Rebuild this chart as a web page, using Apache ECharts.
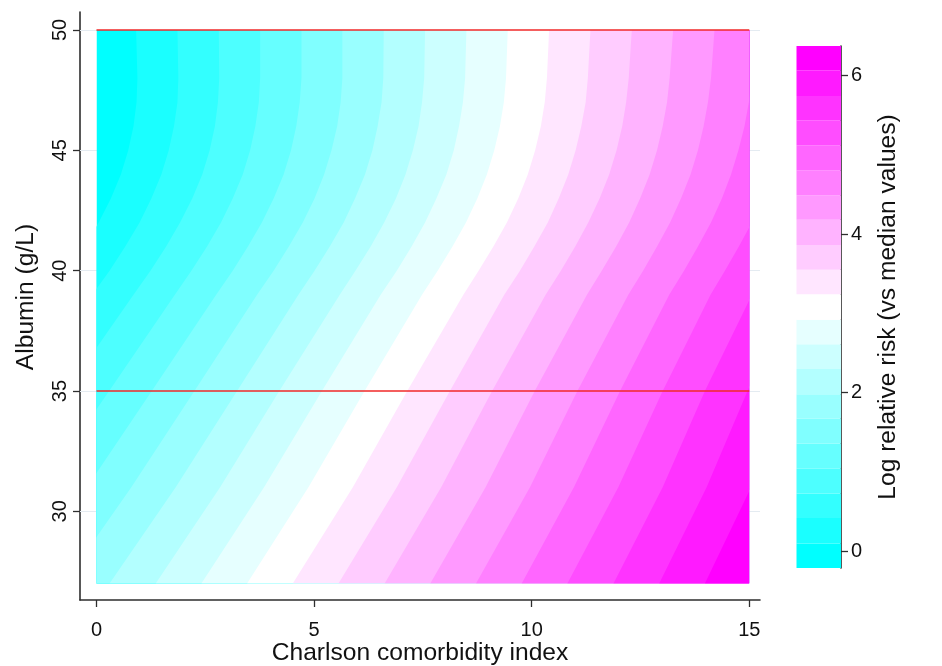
<!DOCTYPE html>
<html>
<head>
<meta charset="utf-8">
<script src="https://cdn.jsdelivr.net/npm/echarts@6/dist/echarts.min.js"></script>
<style>
  html, body { margin: 0; padding: 0; background: #ffffff; }
  #chart { width: 942px; height: 666px; }
</style>
</head>
<body>
<div id="chart"></div>
<script>
// Albumin (g/L) rows along which each contour boundary is traced, top to bottom
const albuminRows = [50, 48, 47, 46, 45, 44, 43, 42, 41, 40, 39, 35, 31, 27];

// Charlson comorbidity index at which each successive risk cut is crossed,
// one list per cut (lowest cut first), aligned with albuminRows
const contourX = [
  [0.91, 0.94, 0.92, 0.85, 0.73, 0.56, 0.33, 0.05, -0.28, -0.65, -1.04, -2.64, -4.28, -6.01],
  [1.86, 1.88, 1.86, 1.78, 1.66, 1.49, 1.26, 0.99, 0.66, 0.30, -0.10, -1.66, -3.27, -4.96],
  [2.81, 2.82, 2.79, 2.72, 2.60, 2.43, 2.20, 1.92, 1.60, 1.24, 0.85, -0.69, -2.25, -3.90],
  [3.76, 3.76, 3.73, 3.65, 3.53, 3.36, 3.13, 2.86, 2.54, 2.18, 1.80, 0.29, -1.23, -2.85],
  [4.71, 4.71, 4.67, 4.59, 4.47, 4.30, 4.07, 3.80, 3.48, 3.13, 2.75, 1.27, -0.22, -1.80],
  [5.65, 5.65, 5.61, 5.53, 5.40, 5.23, 5.01, 4.74, 4.42, 4.07, 3.69, 2.25, 0.80, -0.75],
  [6.60, 6.59, 6.55, 6.46, 6.34, 6.17, 5.94, 5.68, 5.36, 5.01, 4.64, 3.23, 1.82, 0.30],
  [7.55, 7.53, 7.48, 7.40, 7.27, 7.10, 6.88, 6.61, 6.30, 5.95, 5.59, 4.20, 2.84, 1.36],
  [8.50, 8.47, 8.42, 8.33, 8.21, 8.04, 7.81, 7.55, 7.24, 6.90, 6.53, 5.18, 3.85, 2.41],
  [9.45, 9.41, 9.36, 9.27, 9.14, 8.97, 8.75, 8.49, 8.18, 7.84, 7.48, 6.16, 4.87, 3.46],
  [10.40, 10.35, 10.30, 10.21, 10.08, 9.91, 9.69, 9.43, 9.12, 8.78, 8.43, 7.14, 5.89, 4.51],
  [11.35, 11.29, 11.24, 11.14, 11.01, 10.84, 10.62, 10.37, 10.06, 9.73, 9.37, 8.12, 6.90, 5.56],
  [12.30, 12.23, 12.17, 12.08, 11.95, 11.78, 11.56, 11.30, 11.00, 10.67, 10.32, 9.09, 7.92, 6.62],
  [13.25, 13.17, 13.11, 13.01, 12.88, 12.71, 12.49, 12.24, 11.94, 11.61, 11.27, 10.07, 8.94, 7.67],
  [14.20, 14.12, 14.05, 13.95, 13.82, 13.65, 13.43, 13.18, 12.88, 12.56, 12.22, 11.05, 9.96, 8.72],
  [15.14, 15.06, 14.99, 14.89, 14.75, 14.58, 14.37, 14.12, 13.82, 13.50, 13.16, 12.03, 10.97, 9.77],
  [16.09, 16.00, 15.93, 15.82, 15.69, 15.52, 15.30, 15.06, 14.76, 14.44, 14.11, 13.01, 11.99, 10.82],
  [17.04, 16.94, 16.86, 16.76, 16.62, 16.45, 16.24, 15.99, 15.70, 15.38, 15.06, 13.98, 13.01, 11.88],
  [17.99, 17.88, 17.80, 17.69, 17.56, 17.39, 17.17, 16.93, 16.64, 16.33, 16.00, 14.96, 14.02, 12.93],
  [18.94, 18.82, 18.74, 18.63, 18.49, 18.32, 18.11, 17.87, 17.58, 17.27, 16.95, 15.94, 15.04, 13.98]
];

// Log relative risk cut points (bottom of the colour bar to its top)
const levelCuts = [-0.21, 0.10, 0.42, 0.73, 1.04, 1.36, 1.67, 1.98, 2.30, 2.61, 2.92,
                   3.24, 3.55, 3.86, 4.18, 4.49, 4.80, 5.12, 5.43, 5.74, 6.06, 6.37];

// Extent of the predicted surface
const charlsonRange = [0, 15];
const albuminRange = [27, 50];

// Reference albumin values marked with red lines
const refAlbumin = [35, 50];

// Tick labels
const xTicks = [0, 5, 10, 15];
const yTicks = [30, 35, 40, 45, 50];
const riskTicks = [0, 2, 4, 6];

// ---- styling ----
const FONT = '"Liberation Sans", Arial, sans-serif';
const AXIS_COLOR = '#2e2e2e';
const nBands = levelCuts.length - 1;
const half = (nBands - 1) / 2;
// cyan -> white -> magenta, one flat colour per band
const bandColors = Array.from({ length: nBands }, (_, i) => {
  if (i < half) {
    const r = Math.round(255 * i / half);
    return `rgb(${r},255,255)`;
  }
  if (i === half) return 'rgb(255,255,255)';
  const g = Math.round(255 * (nBands - 1 - i) / half);
  return `rgb(255,${g},255)`;
});

const chart = echarts.init(document.getElementById('chart'), null, { renderer: 'canvas' });

// Each level k paints the region where risk exceeds cut k; later levels overlay earlier ones
function renderBand(params, api) {
  const k = api.value(0);
  const tl = api.coord([charlsonRange[0], albuminRange[1]]);
  const br = api.coord([charlsonRange[1], albuminRange[0]]);
  let pts;
  if (k === 0) {
    pts = [[charlsonRange[0], albuminRange[1]], [charlsonRange[0], albuminRange[0]],
           [charlsonRange[1], albuminRange[0]], [charlsonRange[1], albuminRange[1]]];
  } else {
    pts = albuminRows.map((a, r) => [contourX[k - 1][r], a]);
    pts.push([charlsonRange[1], albuminRange[0]], [charlsonRange[1], albuminRange[1]]);
  }
  return {
    type: 'polygon',
    shape: { points: pts.map(p => api.coord(p)) },
    style: { fill: bandColors[k], stroke: null },
    clipPath: { type: 'rect', shape: { x: tl[0], y: tl[1], width: br[0] - tl[0], height: br[1] - tl[1] } }
  };
}

function renderBarCell(params, api) {
  const i = api.value(0);
  const p0 = api.coord([0, levelCuts[i + 1]]);
  const p1 = api.coord([1, levelCuts[i]]);
  return {
    type: 'rect',
    shape: { x: p0[0], y: p0[1], width: p1[0] - p0[0], height: p1[1] - p0[1] },
    style: { fill: bandColors[i], stroke: null }
  };
}

const tickText = { fontFamily: FONT, fontSize: 20, color: '#111111' };
const titleText = { fontFamily: FONT, fontSize: 24.6, color: '#111111' };

const option = {
  backgroundColor: '#ffffff',
  animation: false,
  grid: [
    { left: 80, top: 12, width: 680, height: 588, containLabel: false, outerBoundsMode: 'none' },
    { left: 796.5, top: 46, width: 44.5, height: 522, containLabel: false, outerBoundsMode: 'none' }
  ],
  xAxis: [
    {
      gridIndex: 0, type: 'value', min: -0.379, max: 15.246,
      axisLine: { show: true, onZero: false, lineStyle: { color: AXIS_COLOR, width: 1.6 } },
      axisTick: { show: true, customValues: xTicks, length: 7, lineStyle: { color: AXIS_COLOR, width: 1.3 } },
      axisLabel: Object.assign({ customValues: xTicks, margin: 20 }, tickText),
      splitLine: { show: false },
      name: 'Charlson comorbidity index', nameLocation: 'middle', nameGap: 41,
      nameMoveOverlap: false,
      nameTextStyle: titleText
    },
    { gridIndex: 1, type: 'value', min: 0, max: 1, show: false }
  ],
  yAxis: [
    {
      gridIndex: 0, type: 'value', min: 26.317, max: 50.747,
      axisLine: { show: true, onZero: false, lineStyle: { color: AXIS_COLOR, width: 1.6 } },
      axisTick: { show: true, customValues: yTicks, length: 7, lineStyle: { color: AXIS_COLOR, width: 1.3 } },
      axisLabel: Object.assign({ customValues: yTicks, rotate: 90, margin: 10 }, tickText),
      splitLine: { show: false },
      name: 'Albumin (g/L)', nameLocation: 'middle', nameRotate: 90, nameGap: 41,
      nameTextStyle: Object.assign({ padding: [0, 0, 0, 18] }, titleText)
    },
    {
      gridIndex: 1, type: 'value', position: 'right', min: levelCuts[0], max: levelCuts[levelCuts.length - 1],
      axisLine: { show: true, onZero: false, lineStyle: { color: AXIS_COLOR, width: 1.6 } },
      axisTick: { show: true, customValues: riskTicks, length: 7, lineStyle: { color: AXIS_COLOR, width: 1.3 } },
      axisLabel: Object.assign({ customValues: riskTicks, margin: 10 }, tickText),
      splitLine: { show: false },
      name: 'Log relative risk (vs median values)', nameLocation: 'middle', nameRotate: 90, nameGap: 35,
      nameTextStyle: titleText
    }
  ],
  series: [
    {
      // faint horizontal grid lines at the albumin ticks, beneath the surface
      type: 'line', xAxisIndex: 0, yAxisIndex: 0, data: [], z: 1, silent: true,
      markLine: {
        z: 1, silent: true, symbol: 'none', animation: false,
        label: { show: false },
        lineStyle: { color: '#e4ebf1', width: 1, type: 'solid' },
        data: yTicks.map(v => ({ yAxis: v }))
      }
    },
    {
      type: 'custom', xAxisIndex: 0, yAxisIndex: 0, z: 3, silent: true,
      renderItem: renderBand,
      data: bandColors.map((c, i) => [i])
    },
    ...refAlbumin.map(a => ({
      type: 'line', xAxisIndex: 0, yAxisIndex: 0, z: 6, silent: true,
      symbol: 'none',
      lineStyle: { color: '#f02828', width: 1.7 },
      data: [[charlsonRange[0], a], [charlsonRange[1], a]]
    })),
    {
      type: 'custom', xAxisIndex: 1, yAxisIndex: 1, z: 2, silent: true,
      renderItem: renderBarCell,
      data: bandColors.map((c, i) => [i])
    }
  ]
};

chart.setOption(option);
</script>
</body>
</html>
